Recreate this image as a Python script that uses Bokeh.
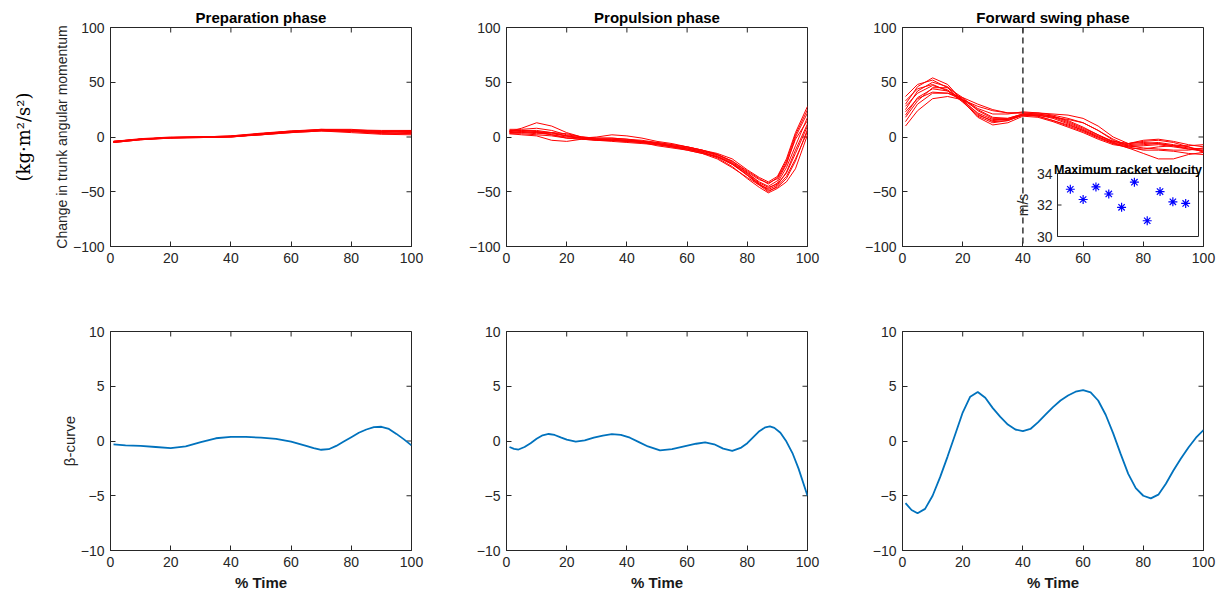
import math
from bokeh.plotting import figure
from bokeh.models import LinearAxis, Range1d, FixedTicker, Span, ColumnDataSource
from bokeh.layouts import column, row
from bokeh.embed import file_html
from bokeh.resources import INLINE
from bokeh.core.properties import value

# ---------------- data ----------------
x_ticks = [0, 20, 40, 60, 80, 100]
momentum_ticks = [-100, -50, 0, 50, 100]
beta_ticks = [-10, -5, 0, 5, 10]
velocity_ticks = [30, 32, 34]

phase_titles = ["Preparation phase", "Propulsion phase", "Forward swing phase"]

# Preparation phase: change in trunk angular momentum, 10 trials
prep_x = [1, 10, 20, 30, 40, 50, 60, 70, 80, 90, 100]
prep_trials = [
    [-4.0, -2.0, -0.5, 0.0, 0.5, 3.0, 5.0, 6.0, 6.0, 5.0, 5.0],
    [-5.0, -2.5, -1.0, -0.5, 0.0, 2.0, 4.5, 6.5, 6.0, 4.0, 3.0],
    [-4.5, -2.0, -0.5, 0.0, 1.0, 3.5, 5.5, 6.0, 5.0, 4.0, 6.0],
    [-4.0, -2.0, -1.0, -0.5, 0.0, 2.5, 5.0, 7.0, 7.0, 5.0, 4.0],
    [-5.0, -2.5, -0.5, 0.0, 0.5, 2.0, 4.0, 5.5, 4.0, 2.5, 2.0],
    [-4.0, -1.5, 0.0, 0.0, 0.5, 3.0, 5.0, 6.0, 6.5, 6.0, 6.0],
    [-4.5, -2.0, -0.5, -0.5, 0.0, 2.5, 5.0, 6.5, 5.5, 3.5, 4.0],
    [-5.0, -2.5, -1.0, 0.0, 1.0, 3.0, 5.5, 7.0, 6.0, 5.0, 5.0],
    [-4.0, -2.0, -0.5, 0.0, 0.5, 2.0, 4.0, 5.5, 5.0, 3.0, 3.0],
    [-4.5, -2.0, -0.5, 0.0, 0.5, 3.0, 5.0, 6.0, 6.0, 5.5, 5.5],
]

# Propulsion phase
prop_x = [1, 5, 10, 15, 20, 25, 30, 35, 40, 45, 50, 55, 60, 65, 70, 75, 80, 84, 87, 90, 93, 96, 100]
prop_trials = [
    [5, 8, 13, 10, 4, 0, -1, -1, -2, -3, -5, -7, -9, -12, -16, -22, -32, -39, -42, -38, -24, -2, 15],
    [6, 6, 6, 4, 1, -1, -2, -3, -4, -5, -7, -9, -11, -14, -18, -25, -35, -43, -48, -44, -32, -12, 12],
    [4, 5, 4, 2, 0, -1, 0, 2, 1, -1, -4, -6, -9, -12, -15, -20, -30, -37, -41, -36, -20, 4, 28],
    [3, 2, 1, -3, -4, -2, -2, -2, -3, -4, -6, -8, -10, -13, -17, -24, -35, -44, -50, -45, -36, -20, 5],
    [5, 4, 3, 3, 1, -1, -3, -3, -4, -5, -6, -8, -11, -14, -19, -27, -38, -46, -51, -47, -41, -29, 2],
    [7, 7, 8, 6, 2, 0, -1, -1, -2, -4, -6, -8, -10, -13, -16, -23, -33, -41, -45, -40, -25, 0, 22],
    [3, 3, 2, 1, -1, -2, -3, -4, -5, -6, -7, -9, -12, -15, -20, -28, -37, -44, -47, -42, -28, -8, 18],
    [6, 5, 4, 4, 3, 0, -2, -3, -4, -5, -8, -10, -12, -15, -18, -24, -33, -42, -46, -43, -33, -15, 10],
    [4, 4, 5, 4, 1, -1, -2, -2, -3, -4, -5, -7, -9, -12, -16, -22, -31, -38, -43, -37, -22, 2, 25],
    [5, 6, 5, 2, -1, -2, -3, -3, -3, -4, -6, -9, -11, -14, -18, -25, -34, -43, -49, -46, -38, -22, 7],
]

# Forward swing phase
swing_x = [1, 5, 10, 15, 20, 25, 30, 35, 40, 45, 50, 55, 60, 65, 70, 75, 80, 85, 90, 95, 100]
swing_trials = [
    [30, 46, 54, 48, 33, 18, 11, 13, 19, 18, 14, 9, 4, -2, -7, -9, -8, -7, -9, -11, -12],
    [37, 48, 52, 45, 32, 19, 13, 15, 20, 19, 15, 10, 5, -1, -6, -8, -7, -6, -8, -10, -11],
    [25, 42, 50, 46, 34, 21, 14, 15, 20, 20, 17, 12, 6, 0, -5, -7, -6, -5, -7, -9, -13],
    [10, 24, 35, 37, 34, 28, 24, 22, 22, 21, 19, 15, 9, 2, -5, -10, -15, -20, -20, -16, -14],
    [14, 30, 40, 40, 34, 25, 18, 17, 21, 20, 18, 16, 13, 6, -3, -9, -12, -12, -13, -15, -16],
    [20, 36, 44, 42, 35, 26, 21, 21, 23, 22, 21, 20, 17, 10, 0, -6, -4, -3, -5, -9, -14],
    [28, 40, 47, 43, 33, 22, 16, 16, 20, 20, 18, 13, 7, 1, -4, -6, -3, -2, -4, -7, -9],
    [33, 44, 48, 42, 32, 20, 15, 16, 21, 19, 15, 11, 6, 0, -6, -10, -11, -9, -8, -8, -7],
    [23, 35, 41, 40, 36, 30, 25, 22, 22, 22, 20, 17, 13, 6, -2, -8, -10, -11, -12, -12, -10],
    [18, 33, 45, 45, 36, 24, 17, 17, 21, 21, 19, 14, 8, 2, -4, -6, -5, -6, -8, -11, -13],
]

# beta-curves
beta_prep_x = [1, 5, 10, 15, 20, 25, 30, 35, 40, 45, 50, 55, 60, 65, 67.5, 70, 72.5,
               75, 77.5, 80, 82.5, 85, 87.5, 90, 92.5, 95, 97.5, 100]
beta_prep = [-0.3, -0.4, -0.45, -0.55, -0.65, -0.5, -0.1, 0.25, 0.38, 0.37, 0.3, 0.2,
             -0.05, -0.45, -0.65, -0.8, -0.75, -0.45, -0.05, 0.35, 0.75, 1.05, 1.27,
             1.3, 1.1, 0.65, 0.15, -0.4]

beta_prop_x = [1, 2.5, 4, 6, 8, 10, 12, 14, 16, 18, 20, 23, 26, 29, 32, 35, 38, 41, 44,
               47, 51, 55, 59, 63, 66, 69, 72, 75, 78, 80, 82, 84, 86, 87.5, 89, 91, 93,
               95, 97, 100]
beta_prop = [-0.55, -0.72, -0.78, -0.55, -0.2, 0.2, 0.52, 0.64, 0.55, 0.33, 0.12, -0.05,
             0.05, 0.3, 0.5, 0.62, 0.55, 0.3, -0.1, -0.5, -0.85, -0.75, -0.5, -0.25,
             -0.12, -0.3, -0.7, -0.9, -0.6, -0.2, 0.35, 0.9, 1.25, 1.33, 1.2, 0.75,
             -0.05, -1.1, -2.5, -5.0]

beta_swing_x = [1, 3, 5, 7.5, 10, 12.5, 15, 17.5, 20, 22.5, 25, 27.5, 30, 32.5, 35, 37.5,
                40, 42.5, 45, 47.5, 50, 52.5, 55, 57.5, 60, 62.5, 65, 67.5, 70, 72.5, 75,
                77.5, 80, 82.5, 85, 87.5, 90, 92.5, 95, 97.5, 100]
beta_swing = [-5.67, -6.3, -6.6, -6.2, -5.0, -3.3, -1.4, 0.6, 2.6, 4.05, 4.48, 3.95, 3.0,
              2.2, 1.5, 1.05, 0.9, 1.1, 1.7, 2.4, 3.1, 3.7, 4.15, 4.5, 4.65, 4.45, 3.7,
              2.4, 0.7, -1.2, -3.0, -4.3, -5.0, -5.24, -4.9, -3.9, -2.7, -1.6, -0.6,
              0.3, 1.0]

# inset: maximum racket velocity per trial (m/s)
trial_no = [1, 2, 3, 4, 5, 6, 7, 8, 9, 10]
max_racket_velocity = [33.0, 32.35, 33.15, 32.7, 31.85, 33.45, 31.0, 32.85, 32.2, 32.1]
impact_time = 40

# ---------------- styling ----------------
FONT = "Liberation Sans"
AX = "#262626"
FRAME_W, FRAME_H = 301, 219
TICK_LEN = 5


def style_axis(ax):
    ax.major_tick_in = TICK_LEN
    ax.major_tick_out = 0
    ax.minor_tick_in = 0
    ax.minor_tick_out = 0
    ax.axis_line_color = AX
    ax.major_tick_line_color = AX
    ax.major_label_text_font = FONT
    ax.major_label_text_color = AX
    ax.major_label_text_font_size = "14px"
    ax.major_label_standoff = 6
    ax.axis_label_text_font = FONT
    ax.axis_label_text_font_style = "normal"
    ax.axis_label_text_color = AX


def panel(left, right, top, bottom, yr, yticks, title=None):
    p = figure(width=left + FRAME_W + right, height=top + FRAME_H + bottom,
               x_range=Range1d(0, 100), y_range=Range1d(*yr),
               output_backend="svg", toolbar_location=None,
               min_border_left=left, min_border_right=right,
               min_border_top=top, min_border_bottom=bottom,
               title=title)
    p.xgrid.visible = False
    p.ygrid.visible = False
    p.outline_line_color = AX
    p.outline_line_width = 1
    p.background_fill_color = "white"
    p.border_fill_color = "white"
    xa, ya = p.below[0], p.left[0]
    xa.ticker = FixedTicker(ticks=x_ticks)
    ya.ticker = FixedTicker(ticks=yticks)
    style_axis(xa)
    style_axis(ya)
    # inward ticks on the top and right edges of the box
    p.ray(x=x_ticks, y=[yr[1]] * len(x_ticks), length=TICK_LEN, length_units="screen",
          angle=-math.pi / 2, line_color=AX, line_width=1)
    p.ray(x=[100] * len(yticks), y=yticks, length=TICK_LEN, length_units="screen",
          angle=math.pi, line_color=AX, line_width=1)
    if title is not None:
        p.title.text_font = FONT
        p.title.text_font_size = "15px"
        p.title.text_font_style = "bold"
        p.title.text_color = "black"
        p.title.align = "center"
        p.title.standoff = 3
    return p


def add_trials(p, xs, trials):
    src = ColumnDataSource(dict(xs=[xs] * len(trials), ys=trials))
    p.multi_line("xs", "ys", source=src, line_color="red", line_width=1.0)


def time_label(p):
    ax = p.below[0]
    ax.axis_label = "% Time"
    ax.axis_label_text_font_size = "15px"
    ax.axis_label_text_font_style = "bold"
    ax.axis_label_text_color = "#1a1a1a"
    ax.axis_label_standoff = 4


# ---------------- top row: momentum ----------------
p1 = panel(110, 49, 27, 44, (-100, 100), momentum_ticks, phase_titles[0])
p2 = panel(46, 49, 27, 44, (-100, 100), momentum_ticks, phase_titles[1])
p3 = panel(46, 23, 27, 44, (-100, 100), momentum_ticks, phase_titles[2])

add_trials(p1, prep_x, prep_trials)
add_trials(p2, prop_x, prop_trials)
add_trials(p3, swing_x, swing_trials)

p1.left[0].axis_label = "Change in trunk angular momentum"
p1.left[0].axis_label_text_font_size = "14px"
p1.left[0].axis_label_standoff = 0

unit_axis = LinearAxis(ticker=FixedTicker(ticks=[]), axis_label="(kg·m²/s²)",
                       axis_line_color=None, major_tick_in=0, major_tick_out=0,
                       minor_tick_in=0, minor_tick_out=0, major_label_standoff=0,
                       axis_label_standoff=17,
                       axis_label_text_font="DejaVu Serif",
                       axis_label_text_font_size="18px",
                       axis_label_text_font_style="normal",
                       axis_label_text_color="black")
p1.add_layout(unit_axis, "left")

p3.add_layout(Span(location=impact_time, dimension="height", line_color="#333333",
                   line_dash="6 4", line_width=1.5))

# inset axes inside the forward swing panel (pixel box relative to the frame)
INSET_L, INSET_R, INSET_B, INSET_T = 155, 296, 10, 73
ix0, ix1 = 0, len(trial_no) + 1
iy0, iy1 = velocity_ticks[0], velocity_ticks[-1]
sx = (ix1 - ix0) / (INSET_R - INSET_L)
sy = (iy1 - iy0) / (INSET_T - INSET_B)
xa0 = ix0 - INSET_L * sx
ya0 = iy0 - INSET_B * sy
p3.extra_x_ranges = {"inset": Range1d(xa0, xa0 + FRAME_W * sx)}
p3.extra_y_ranges = {"inset": Range1d(ya0, ya0 + FRAME_H * sy)}
ins = dict(x_range_name="inset", y_range_name="inset")

p3.quad(left=[ix0], right=[ix1], bottom=[iy0], top=[iy1], fill_color="white",
        line_color=AX, line_width=1, **ins)
p3.ray(x=[ix0] * len(velocity_ticks), y=velocity_ticks, length=4, length_units="screen",
       angle=0, line_color=AX, line_width=1, **ins)
p3.text(x=[ix0] * len(velocity_ticks), y=velocity_ticks,
        text=[str(t) for t in velocity_ticks], x_offset=-5,
        text_align="right", text_baseline="middle", text_font=value(FONT),
        text_font_size="14px", text_color=AX, **ins)
p3.text(x=[ix0], y=[(iy0 + iy1) / 2], text=["m/s"], angle=math.pi / 2, x_offset=-35,
        text_align="center", text_baseline="middle", text_font=value(FONT),
        text_font_size="14px", text_color=AX, **ins)
p3.text(x=[(ix0 + ix1) / 2], y=[iy1], text=["Maximum racket velocity"], y_offset=-4,
        text_align="center", text_baseline="alphabetic", text_font=value(FONT),
        text_font_size="12.5px", text_font_style="bold", text_color="black", **ins)
p3.scatter(trial_no, max_racket_velocity, marker="asterisk", size=9,
           line_color="blue", line_width=1.2, **ins)

# ---------------- bottom row: beta curves ----------------
p4 = panel(110, 49, 41, 49, (-10, 10), beta_ticks)
p5 = panel(46, 49, 41, 49, (-10, 10), beta_ticks)
p6 = panel(46, 23, 41, 49, (-10, 10), beta_ticks)

BLUE = "#0072BD"
p4.line(beta_prep_x, beta_prep, line_color=BLUE, line_width=1.8)
p5.line(beta_prop_x, beta_prop, line_color=BLUE, line_width=1.8)
p6.line(beta_swing_x, beta_swing, line_color=BLUE, line_width=1.8)

p4.left[0].axis_label = "β-curve"
p4.left[0].axis_label_text_font_size = "15px"
p4.left[0].axis_label_standoff = 0

for p in (p4, p5, p6):
    time_label(p)

layout = column(row(p1, p2, p3, spacing=0), row(p4, p5, p6, spacing=0), spacing=0)

with open("out.html", "w") as f:
    f.write(file_html(layout, INLINE))
